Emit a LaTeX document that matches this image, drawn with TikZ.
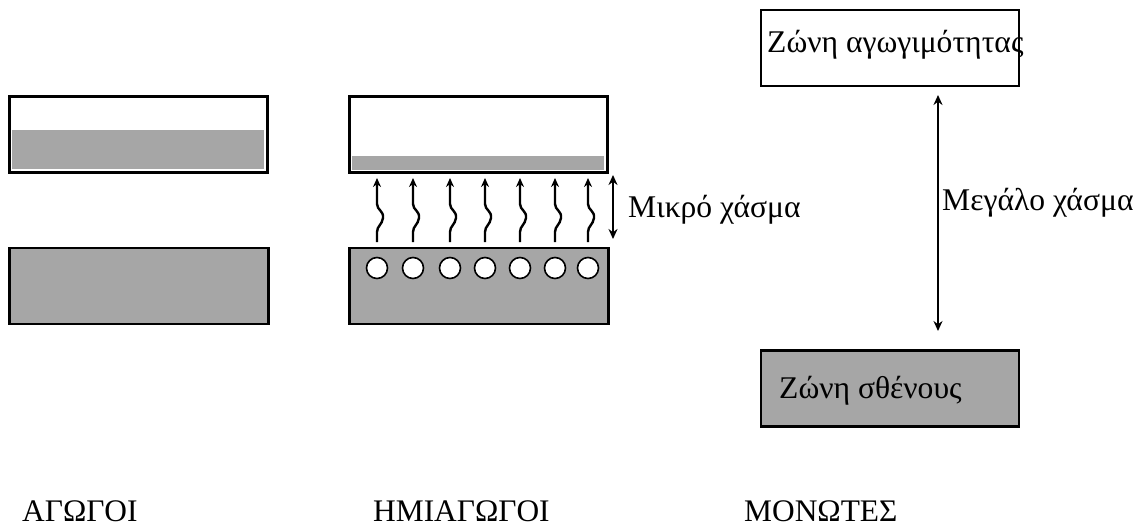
\documentclass[tikz,border=0pt]{standalone}
\usepackage{fontspec}
\setmainfont{Liberation Serif}
\usetikzlibrary{arrows.meta}
\definecolor{bandgray}{RGB}{166,166,166}
\tikzset{
  band/.style={draw=black, line width=2.4pt, inner sep=0pt, outer sep=0pt},
  lbl/.style={anchor=base west, inner sep=0pt, font=\fontsize{31.6}{36}\selectfont},
  title/.style={anchor=base west, inner sep=0pt, font=\fontsize{31.4}{36}\selectfont},
  gaparrow/.style={line width=2pt, {Stealth[length=10pt,width=9pt]}-{Stealth[length=10pt,width=9pt]}},
  wavy/.style={line width=2.4pt, -{Stealth[length=9pt,width=8pt]}},
  hole/.style={circle, draw=black, line width=1.6pt, fill=white, minimum size=21pt, inner sep=0pt}
}
\begin{document}
\begin{tikzpicture}[x=1pt,y=-1pt]
\useasboundingbox (0,0) rectangle (1145,528);
% Conductors
\fill[bandgray] (12,130) rectangle (264,169);
\node[band, minimum width=258pt, minimum height=76pt] (cCB) at (138.5,134.5) {};
\node[band, fill=bandgray, minimum width=259pt, minimum height=76pt] (cVB) at (139,286) {};
% Semiconductors
\fill[bandgray] (352,156) rectangle (604,170);
\node[band, minimum width=258pt, minimum height=76pt] (sCB) at (478.5,134.5) {};
\node[band, fill=bandgray, minimum width=259pt, minimum height=76pt] (sVB) at (479,286) {};
\foreach \i/\x in {1/377,2/413,3/450,4/485,5/520,6/555,7/588}{
  \node[hole] (h\i) at (\x,268) {};
  \coordinate (ws\i) at (\x,242);
  \coordinate (we\i) at (\x,178);
  \draw[wavy] (ws\i) -- ++(0,-10) .. controls ++(0,-6) and ++(-1,7) .. ++(6,-14)
     .. controls ++(1,-7) and ++(0,6) .. ++(-6,-14) -- (we\i);
}
\coordinate (sg1) at (613,175);
\coordinate (sg2) at (613,239);
\draw[gaparrow] (sg1) -- (sg2);
\node[lbl] (small) at (628,217) {Μικρό χάσμα};
% Insulators
\node[band, minimum width=258pt, minimum height=76pt] (iCB) at (890,48) {};
\node[band, fill=bandgray, minimum width=258pt, minimum height=76pt] (iVB) at (890,388.5) {};
\node[lbl] (cbtext) at (767,52) {Ζώνη αγωγιμότητας};
\node[lbl] (vbtext) at (779,398) {Ζώνη σθένους};
\coordinate (bg1) at (938,95);
\coordinate (bg2) at (938,331);
\draw[gaparrow] (bg1) -- (bg2);
\node[lbl] (big) at (942,210) {Μεγάλο χάσμα};
% Titles
\node[title] (t1) at (22,521) {ΑΓΩΓΟΙ};
\node[title] (t2) at (373,521) {ΗΜΙΑΓΩΓΟΙ};
\node[title] (t3) at (744,521) {ΜΟΝΩΤΕΣ};
\end{tikzpicture}
\end{document}
